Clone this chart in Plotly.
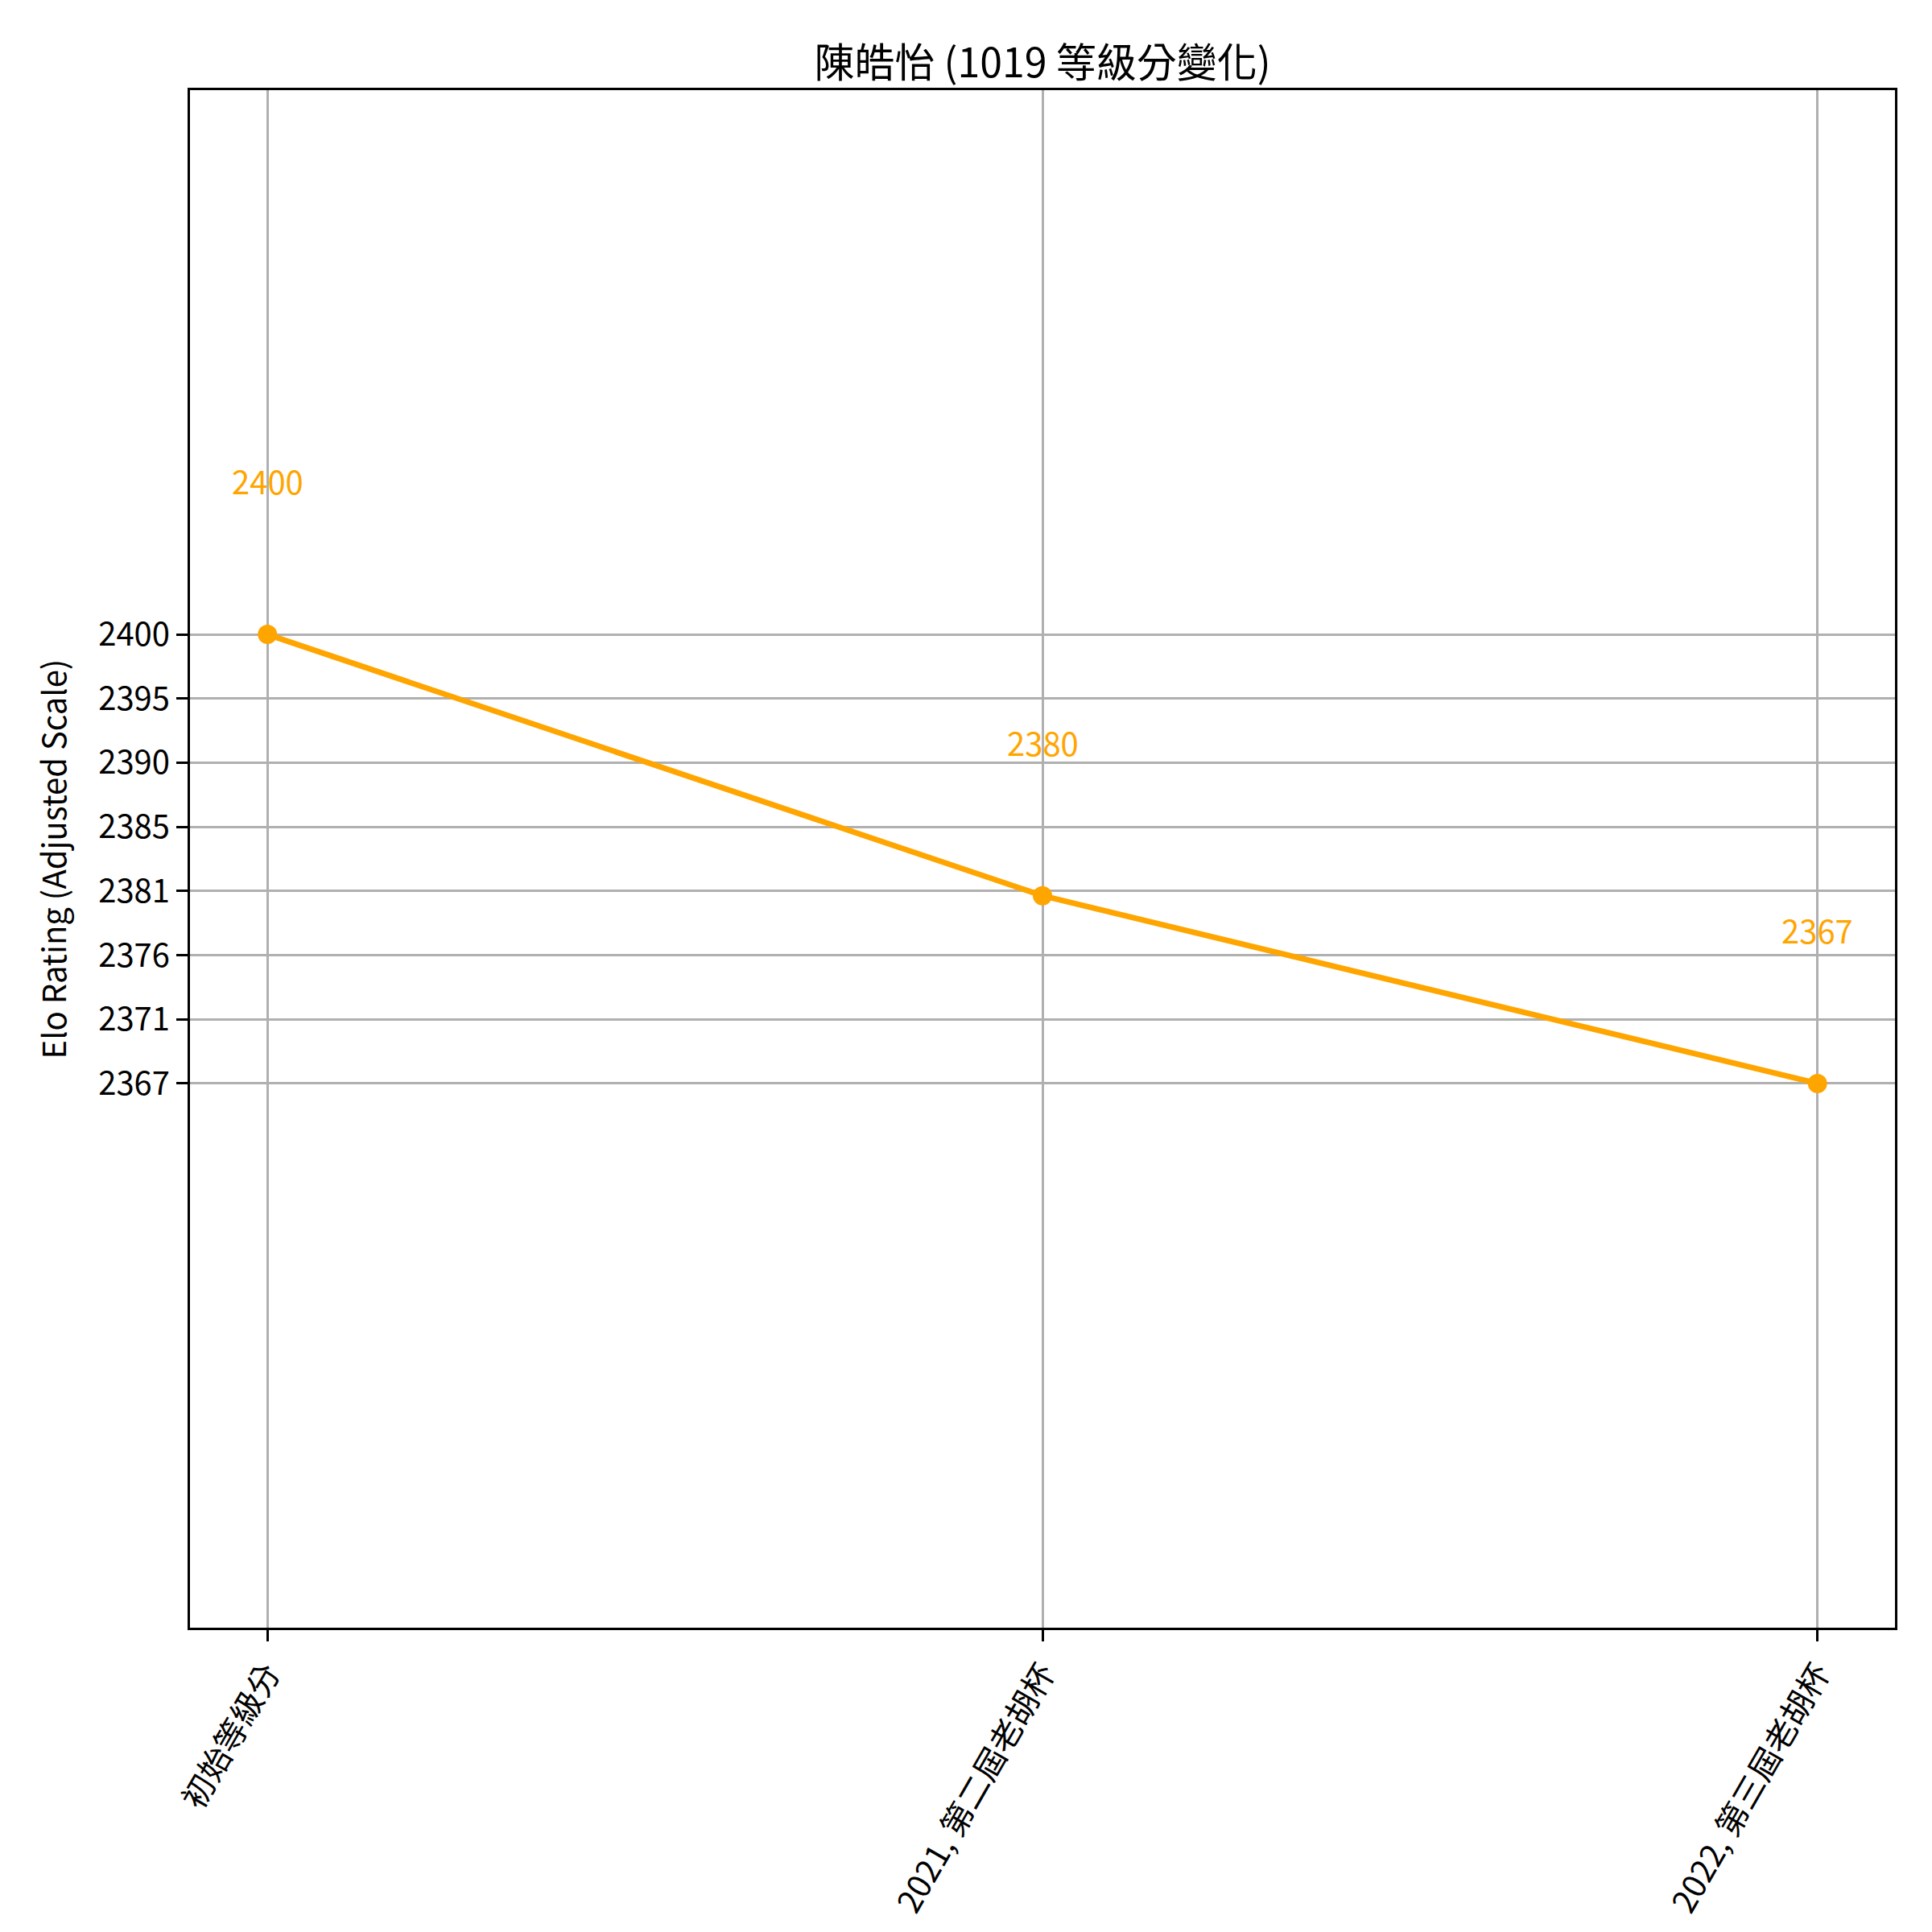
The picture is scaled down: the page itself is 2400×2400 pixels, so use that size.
import numpy as np
import plotly.graph_objects as go

# data
events = ["初始等級分", "2021, 第二屆老胡杯", "2022, 第三屆老胡杯"]
ratings = [2400, 2380.8, 2367]
rating_labels = ["2400", "2380", "2367"]
y_tick_labels = ["2367", "2371", "2376", "2381", "2385", "2390", "2395", "2400"]

ORANGE = "#FFA500"
FONT = "Noto Sans CJK TC, Noto Sans, DejaVu Sans"

fig = go.Figure()
fig.add_trace(
    go.Scatter(
        x=events,
        y=ratings,
        mode="lines+markers",
        line=dict(color=ORANGE, width=7),
        marker=dict(color=ORANGE, size=24),
        showlegend=False,
    ))

for ev, val, lab in zip(events, ratings, rating_labels):
    fig.add_annotation(x=ev, y=val, text=lab, showarrow=False,
                       yshift=191, font=dict(family=FONT, size=40, color=ORANGE))

y_tick_vals = np.linspace(min(ratings), max(ratings), len(y_tick_labels))

fig.update_layout(
    width=2400,
    height=2400,
    margin=dict(l=228, r=54, t=104, b=386),
    plot_bgcolor="white",
    paper_bgcolor="white",
    font=dict(family=FONT, size=40, color="black"),
    title=dict(text="陳皓怡 (1019 等級分變化)", x=0.5, xanchor="center",
               xref="paper", y=1, yref="paper", yanchor="bottom",
               pad=dict(b=16), font=dict(size=50)),
    xaxis=dict(range=[-0.1, 2.1], showgrid=True, gridcolor="#b0b0b0", gridwidth=3,
               showline=True, linecolor="black", linewidth=3, mirror=True,
               ticks="outside", ticklen=14, tickwidth=3, tickcolor="black",
               tickangle=-60, tickfont=dict(size=40), zeroline=False),
    yaxis=dict(range=[min(ratings) - 40, max(ratings) + 40],
               tickvals=y_tick_vals, ticktext=y_tick_labels,
               showgrid=True, gridcolor="#b0b0b0", gridwidth=3,
               showline=True, linecolor="black", linewidth=3, mirror=True,
               ticks="outside", ticklen=14, tickwidth=3, tickcolor="black",
               tickfont=dict(size=40), zeroline=False,
               title=dict(text="Elo Rating (Adjusted Scale)", standoff=28,
                          font=dict(size=40))),
)

fig.write_html("out.html")
